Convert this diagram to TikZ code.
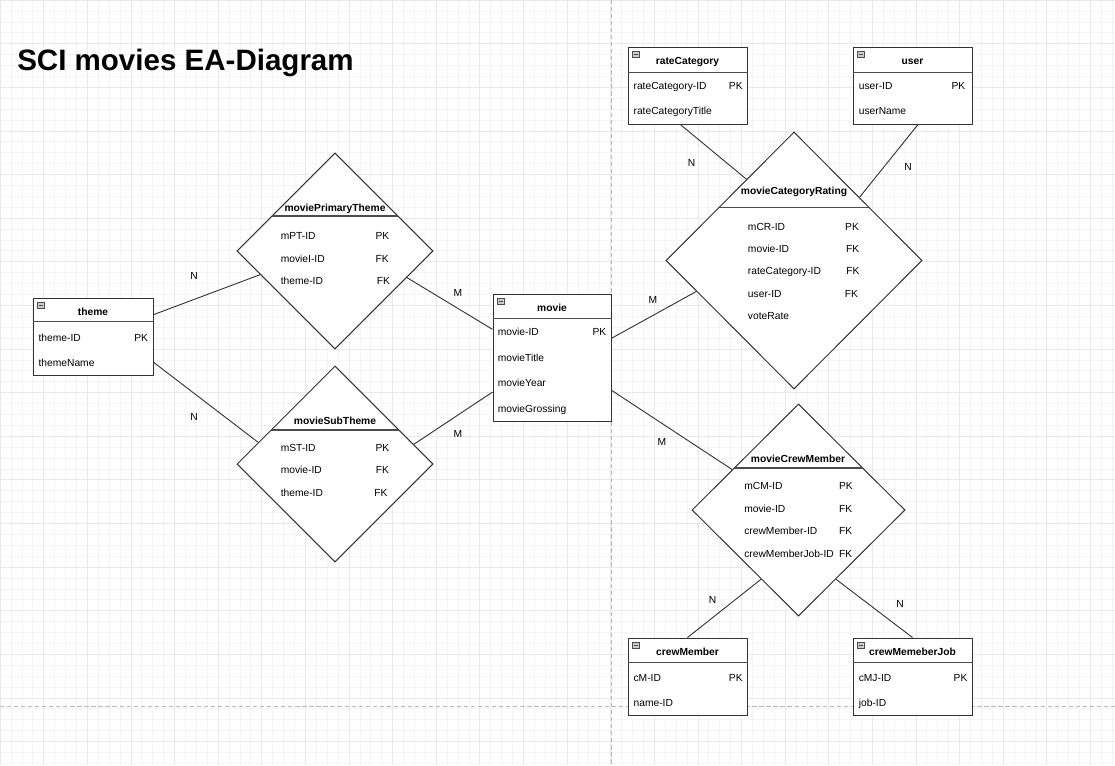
\documentclass[tikz,border=0pt]{standalone}
\usepackage{fontspec}
\setmainfont{Liberation Sans}
\usetikzlibrary{shapes.geometric, calc, fit}

\begin{document}
\begin{tikzpicture}[x=0.025cm, y=-0.025cm,
  entity/.style={rectangle, draw=black!80, line width=0.7pt, fill=white, inner sep=0pt},
  relation/.style={diamond, draw=black!80, line width=0.7pt, fill=white, inner sep=0pt},
  icon/.style={rectangle, draw=gray!60!black, fill=gray!40, line width=0.3pt, inner sep=0pt,
    minimum width=0.18cm, minimum height=0.15cm,
    path picture={\draw[black!70, line width=0.6pt] ([xshift=0.8pt]path picture bounding box.west) -- ([xshift=-0.8pt]path picture bounding box.east);}},
  hdr/.style={font=\fontsize{7.3}{9}\selectfont\bfseries, anchor=base, inner sep=0pt},
  row/.style={font=\fontsize{7.3}{9}\selectfont, anchor=base west, inner sep=0pt},
  card/.style={font=\fontsize{7.3}{9}\selectfont, inner sep=0pt},
  hline/.style={draw=black!70, line width=1pt},
  link/.style={draw=black!80, line width=0.65pt},
  pagebreak/.style={draw=gray!55, line width=0.5pt, dash pattern=on 3pt off 2pt}]

  % canvas
  \useasboundingbox (0,0) rectangle (1115,765);
  \fill[white] (0,0) rectangle (1115,765);
  \draw[gray!9, line width=0.4pt, step=0.2725cm] (0,765) grid (1115,0);
  \draw[gray!17, line width=0.4pt, step=1.09cm] (0,765) grid (1115,0);
  \draw[pagebreak] (611,0) -- (611,765);
  \draw[pagebreak] (0,706) -- (1115,706);

  \node[anchor=base west, inner sep=0pt, font=\fontsize{21}{25}\selectfont\bfseries] (title) at (17,70.5) {SCI movies EA-Diagram};

  % entities
  \node[entity, fit={(33,298) (153,375)}] (theme) {};
  \node[icon] (theme-i) at (41,305) {};
  \draw[hline] ($(theme.north west)+(0,24)$) -- ($(theme.north east)+(0,24)$);
  \node[hdr] (theme-t) at (93,315.5) {theme};
  \node[row] (theme-1) at (38.3,341) {\makebox[2.735cm]{theme-ID\hfill PK}};
  \node[row] (theme-2) at (38.3,366) {themeName};

  \node[entity, fit={(493,294) (611,421)}] (movie) {};
  \node[icon] (movie-i) at (501,301.5) {};
  \draw[hline] ($(movie.north west)+(0,25)$) -- ($(movie.north east)+(0,25)$);
  \node[hdr] (movie-t) at (552,311.5) {movie};
  \node[row] (movie-1) at (497.5,335.7) {\makebox[2.71cm]{movie-ID\hfill PK}};
  \node[row] (movie-2) at (497.5,361) {movieTitle};
  \node[row] (movie-3) at (497.5,386.5) {movieYear};
  \node[row] (movie-4) at (497.5,412) {movieGrossing};

  \node[entity, fit={(628,47) (747,124)}] (rateCategory) {};
  \node[icon] (rateCategory-i) at (636,54) {};
  \draw[hline] ($(rateCategory.north west)+(0,26)$) -- ($(rateCategory.north east)+(0,26)$);
  \node[hdr] (rateCategory-t) at (687.5,64.5) {rateCategory};
  \node[row] (rateCategory-1) at (633.3,89.5) {\makebox[2.725cm]{rateCategory-ID\hfill PK}};
  \node[row] (rateCategory-2) at (633.3,114.5) {rateCategoryTitle};

  \node[entity, fit={(853,47) (972,124)}] (user) {};
  \node[icon] (user-i) at (861,54) {};
  \draw[hline] ($(user.north west)+(0,26)$) -- ($(user.north east)+(0,26)$);
  \node[hdr] (user-t) at (912.5,64.5) {user};
  \node[row] (user-1) at (858.5,89.5) {\makebox[2.66cm]{user-ID\hfill PK}};
  \node[row] (user-2) at (858.5,114.5) {userName};

  \node[entity, fit={(628,638) (747,715)}] (crewMember) {};
  \node[icon] (crewMember-i) at (636,645) {};
  \draw[hline] ($(crewMember.north west)+(0,25)$) -- ($(crewMember.north east)+(0,25)$);
  \node[hdr] (crewMember-t) at (687.5,655.5) {crewMember};
  \node[row] (crewMember-1) at (633.3,681) {\makebox[2.725cm]{cM-ID\hfill PK}};
  \node[row] (crewMember-2) at (633.3,706) {name-ID};

  \node[entity, fit={(853,638) (972,715)}] (crewJob) {};
  \node[icon] (crewJob-i) at (861,645) {};
  \draw[hline] ($(crewJob.north west)+(0,25)$) -- ($(crewJob.north east)+(0,25)$);
  \node[hdr] (crewJob-t) at (912.5,655.5) {crewMemeberJob};
  \node[row] (crewJob-1) at (858.5,681) {\makebox[2.715cm]{cMJ-ID\hfill PK}};
  \node[row] (crewJob-2) at (858.5,706) {job-ID};

  % relations
  \node[relation, minimum width=4.9cm, minimum height=4.9cm] (mpt) at (335,251) {};
  \draw[hline] ($(mpt.north)!0.643!(mpt.west)$) -- ($(mpt.north)!0.643!(mpt.east)$);
  \node[hdr] (mpt-t) at (335,211.5) {moviePrimaryTheme};
  \node[row] (mpt-1) at (280.5,239.5) {\makebox[2.37cm][l]{mPT-ID}PK};
  \node[row] (mpt-2) at (280.5,262) {\makebox[2.37cm][l]{movieI-ID}FK};
  \node[row] (mpt-3) at (280.5,284) {\makebox[2.4cm][l]{theme-ID}FK};

  \node[relation, minimum width=4.9cm, minimum height=4.9cm] (mst) at (335,464) {};
  \draw[hline] ($(mst.north)!0.653!(mst.west)$) -- ($(mst.north)!0.653!(mst.east)$);
  \node[hdr] (mst-t) at (335,424.5) {movieSubTheme};
  \node[row] (mst-1) at (280.5,451) {\makebox[2.37cm][l]{mST-ID}PK};
  \node[row] (mst-2) at (280.5,473.5) {\makebox[2.375cm][l]{movie-ID}FK};
  \node[row] (mst-3) at (280.5,496) {\makebox[2.34cm][l]{theme-ID}FK};

  \node[relation, minimum width=6.4cm, minimum height=6.425cm] (mcr) at (794,260.5) {};
  \draw[hline] ($(mcr.north)!0.59!(mcr.west)$) -- ($(mcr.north)!0.59!(mcr.east)$);
  \node[hdr] (mcr-t) at (794,194.5) {movieCategoryRating};
  \node[row] (mcr-1) at (747.7,230) {\makebox[2.43cm][l]{mCR-ID}PK};
  \node[row] (mcr-2) at (747.7,252.5) {\makebox[2.45cm][l]{movie-ID}FK};
  \node[row] (mcr-3) at (747.7,274.5) {\makebox[2.46cm][l]{rateCategory-ID}FK};
  \node[row] (mcr-4) at (747.7,297.5) {\makebox[2.42cm][l]{user-ID}FK};
  \node[row] (mcr-5) at (747.7,319) {voteRate};

  \node[relation, minimum width=5.325cm, minimum height=5.3cm] (mcm) at (798.5,510) {};
  \draw[hline] ($(mcm.north)!0.604!(mcm.west)$) -- ($(mcm.north)!0.604!(mcm.east)$);
  \node[hdr] (mcm-t) at (798,462.5) {movieCrewMember};
  \node[row] (mcm-1) at (744,489.3) {\makebox[2.37cm][l]{mCM-ID}PK};
  \node[row] (mcm-2) at (744,512) {\makebox[2.37cm][l]{movie-ID}FK};
  \node[row] (mcm-3) at (744,534) {\makebox[2.37cm][l]{crewMember-ID}FK};
  \node[row] (mcm-4) at (744,557.3) {\makebox[2.37cm][l]{crewMemberJob-ID}FK};

  % connectors
  \draw[link] ($(theme.north east)!0.22!(theme.south east)$) -- ($(mpt.west)!0.24!(mpt.south)$);
  \draw[link] ($(theme.north east)!0.83!(theme.south east)$) -- ($(mst.west)!0.22!(mst.north)$);
  \draw[link] ($(mpt.east)!0.27!(mpt.south)$) -- ($(movie.north west)!0.28!(movie.south west)$);
  \draw[link] ($(mst.east)!0.2!(mst.north)$) -- ($(movie.north west)!0.77!(movie.south west)$);
  \draw[link] ($(movie.north east)!0.35!(movie.south east)$) -- ($(mcr.west)!0.24!(mcr.south)$);
  \draw[link] ($(movie.north east)!0.756!(movie.south east)$) -- ($(mcm.west)!0.38!(mcm.north)$);
  \draw[link] ($(rateCategory.south west)!0.44!(rateCategory.south east)$) -- ($(mcr.north)!0.37!(mcr.west)$);
  \draw[link] ($(user.south west)!0.546!(user.south east)$) -- ($(mcr.north)!0.51!(mcr.east)$);
  \draw[link] ($(mcm.south)!0.35!(mcm.west)$) -- (crewMember.north);
  \draw[link] ($(mcm.south)!0.35!(mcm.east)$) -- (crewJob.north);

  % cardinalities
  \node[card] (c1) at (194,276) {N};
  \node[card] (c2) at (194,417) {N};
  \node[card] (c3) at (458,293) {M};
  \node[card] (c4) at (458,434) {M};
  \node[card] (c5) at (653,300) {M};
  \node[card] (c6) at (662,442) {M};
  \node[card] (c7) at (691.5,162.5) {N};
  \node[card] (c8) at (908,166.5) {N};
  \node[card] (c9) at (712.5,600) {N};
  \node[card] (c10) at (900,604) {N};
\end{tikzpicture}
\end{document}
